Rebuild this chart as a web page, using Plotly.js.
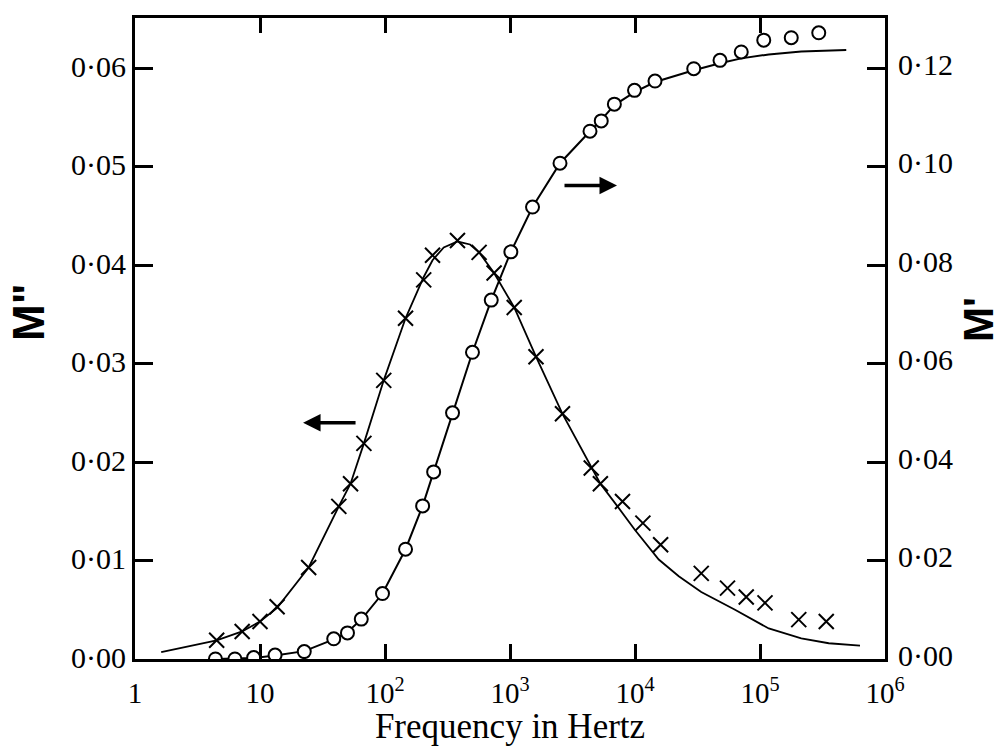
<!DOCTYPE html>
<html>
<head>
<meta charset="utf-8">
<script src="https://cdn.plot.ly/plotly-3.0.1.min.js"></script>
<style>html,body{margin:0;padding:0;background:#fff;}#chart{width:1008px;height:746px;}</style>
</head>
<body>
<div id="chart"></div>
<script>
// Measured data: M'' (crosses, left axis)
const crossFreq = [4.5, 7.2, 10.0, 13.7, 24.5, 42.7, 53, 67.8, 97.7, 146, 204, 240, 380, 566, 746, 1081, 1614, 2630, 4467, 5284, 7943, 11561, 16032, 33884, 54954, 77625, 109648, 204174, 338844];
const crossMpp = [0.0019, 0.0028, 0.0038, 0.0053, 0.0093, 0.0155, 0.0178, 0.0219, 0.0283, 0.0346, 0.0385, 0.0410, 0.0425, 0.0413, 0.0392, 0.0357, 0.0307, 0.0249, 0.0194, 0.0178, 0.0160, 0.0138, 0.0116, 0.0087, 0.0072, 0.0063, 0.0057, 0.0040, 0.0038];

// Measured data: M' (circles, right axis)
const circleFreq = [4.4, 6.3, 8.9, 13.2, 22.6, 38.9, 50.1, 64.6, 95.5, 146, 200, 245, 347, 501, 708, 1016, 1514, 2512, 4365, 5370, 6839, 9908, 14454, 29512, 47863, 70795, 107152, 177828, 295121];
const circleMp = [0.000, 0.000, 0.0003, 0.0008, 0.0015, 0.0041, 0.0053, 0.0081, 0.0133, 0.0223, 0.0311, 0.0380, 0.0500, 0.0623, 0.0729, 0.0827, 0.0918, 0.1007, 0.1072, 0.1093, 0.1127, 0.1155, 0.1174, 0.1199, 0.1216, 0.1233, 0.1257, 0.1262, 0.1272];

// Fitted curve for M''
const fitMppFreq = [1.62, 4.5, 7.2, 10.0, 13.7, 24.5, 42.7, 53, 67.8, 97.7, 146, 204, 240, 295, 380, 479, 566, 746, 1081, 1614, 2630, 4467, 5284, 7244, 10000, 15488, 22387, 33884, 63096, 117490, 213796, 354813, 630957];
const fitMpp = [0.0007, 0.0019, 0.0028, 0.0038, 0.0052, 0.0093, 0.0155, 0.0178, 0.0219, 0.0283, 0.0346, 0.0388, 0.0405, 0.0418, 0.0424, 0.0421, 0.0413, 0.0392, 0.0357, 0.0307, 0.0249, 0.0194, 0.0178, 0.0155, 0.0131, 0.0101, 0.0084, 0.0068, 0.0050, 0.0031, 0.0021, 0.0016, 0.00135];

// Fitted curve for M'
const fitMpFreq = [4.4, 8.9, 13.2, 22.6, 38.9, 50.1, 64.6, 95.5, 146, 200, 245, 347, 501, 708, 1016, 1514, 2512, 4365, 5370, 6839, 10000, 14454, 29512, 47863, 70795, 117490, 213796, 489779];
const fitMp = [0.000, 0.0002, 0.0007, 0.0016, 0.0040, 0.0055, 0.0080, 0.0133, 0.0223, 0.0311, 0.0380, 0.0500, 0.0623, 0.0729, 0.0827, 0.0918, 0.1007, 0.1072, 0.1095, 0.1125, 0.1152, 0.1172, 0.1196, 0.1210, 0.1220, 0.1228, 0.1234, 0.1237];

// Axis ticks
const xTickVals = [1, 10, 100, 1000, 10000, 100000, 1000000];
const xTickText = ['1', '10', '10<sup>2</sup>', '10<sup>3</sup>', '10<sup>4</sup>', '10<sup>5</sup>', '10<sup>6</sup>'];
const yLeftVals = [0, 0.01, 0.02, 0.03, 0.04, 0.05, 0.06];
const yLeftText = ['0·00', '0·01', '0·02', '0·03', '0·04', '0·05', '0·06'];
const yRightVals = [0, 0.02, 0.04, 0.06, 0.08, 0.10, 0.12];
const yRightText = ['0·00', '0·02', '0·04', '0·06', '0·08', '0·10', '0·12'];

const serif = 'Liberation Serif, Times New Roman, serif';
const sans = 'Liberation Sans, Arial, sans-serif';

const traces = [
  {x: fitMppFreq, y: fitMpp, mode: 'lines', yaxis: 'y', line: {color: 'black', width: 1.8}, hoverinfo: 'skip'},
  {x: crossFreq, y: crossMpp, mode: 'markers', yaxis: 'y', name: "M''",
   marker: {symbol: 'x-thin-open', size: 15, color: 'black', line: {color: 'black', width: 2}}},
  {x: fitMpFreq, y: fitMp, mode: 'lines', yaxis: 'y2', line: {color: 'black', width: 2}, hoverinfo: 'skip'},
  {x: circleFreq, y: circleMp, mode: 'markers', yaxis: 'y2', name: "M'",
   marker: {symbol: 'circle', size: 13, color: 'white', line: {color: 'black', width: 2}}}
];

const layout = {
  width: 1008, height: 746,
  margin: {l: 135, r: 123, t: 18, b: 87},
  paper_bgcolor: 'white', plot_bgcolor: 'white',
  showlegend: false,
  font: {family: serif, color: 'black', size: 30},
  xaxis: {
    type: 'log', range: [0, 6],
    tickvals: xTickVals, ticktext: xTickText,
    ticks: 'inside', ticklen: 15, tickwidth: 3, tickcolor: 'black',
    showline: true, linewidth: 3, linecolor: 'black', mirror: 'ticks',
    showgrid: false, zeroline: false,
    ticklabelstandoff: 6,
    tickfont: {family: serif, size: 29, color: 'black'},
    title: {text: 'Frequency in Hertz', font: {family: serif, size: 35, color: 'black'}, standoff: 4}
  },
  yaxis: {
    range: [0, 0.0651],
    tickvals: yLeftVals, ticktext: yLeftText,
    ticks: 'inside', ticklen: 18, tickwidth: 3, tickcolor: 'black',
    showline: true, linewidth: 3, linecolor: 'black',
    showgrid: false, zeroline: false,
    ticklabelshift: -2,
    tickfont: {family: serif, size: 30, color: 'black'}
  },
  yaxis2: {
    overlaying: 'y', side: 'right',
    range: [0, 0.1302],
    tickvals: yRightVals, ticktext: yRightText,
    ticks: 'inside', ticklen: 18, tickwidth: 3, tickcolor: 'black',
    showline: true, linewidth: 3, linecolor: 'black',
    showgrid: false, zeroline: false,
    ticklabelshift: -4, ticklabelstandoff: 4,
    tickfont: {family: serif, size: 30, color: 'black'}
  },
  annotations: [
    {text: 'M"', xref: 'paper', yref: 'paper', x: -0.143, y: 0.541, xanchor: 'center', yanchor: 'middle',
     showarrow: false, textangle: -90,
     font: {family: sans, size: 44, color: 'black', weight: 'bold'}},
    {text: "M'", xref: 'paper', yref: 'paper', x: 1.125, y: 0.53, xanchor: 'center', yanchor: 'middle',
     showarrow: false, textangle: -90,
     font: {family: sans, size: 42, color: 'black', weight: 'bold'}},
    {text: '', x: Math.log10(22.1), y: 0.0240, xref: 'x', yref: 'y', showarrow: true,
     ax: 54, ay: 0, arrowhead: 2, arrowsize: 1, arrowwidth: 3.5, arrowcolor: 'black', standoff: 0},
    {text: '', x: Math.log10(7178), y: 0.0481, xref: 'x', yref: 'y', showarrow: true,
     ax: -54, ay: 0, arrowhead: 2, arrowsize: 1, arrowwidth: 3.5, arrowcolor: 'black', standoff: 0}
  ]
};

Plotly.newPlot('chart', traces, layout, {staticPlot: true, displayModeBar: false});
</script>
</body>
</html>
